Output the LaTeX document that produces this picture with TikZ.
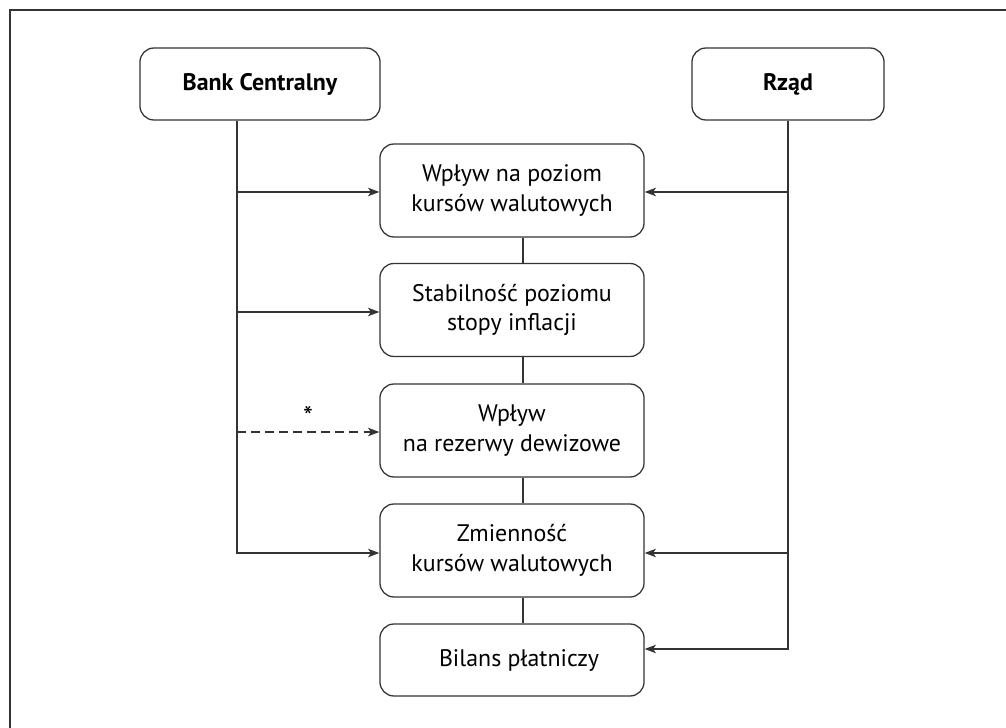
\documentclass[tikz,border=0pt]{standalone}
\usepackage{fontspec}
\setmainfont{PT Sans}
\usepackage{tikz}
\usetikzlibrary{arrows.meta}

\begin{document}
\begin{tikzpicture}[x=0.025cm, y=-0.025cm,
    line width=0.9pt, draw=black!80,
    >={Stealth[length=8pt, width=6pt, inset=2pt]},
    actor/.style={draw, rounded corners=10pt, minimum width=6cm, minimum height=1.8cm,
        font=\fontsize{17}{21}\selectfont\bfseries, align=center},
    effect/.style={draw, rounded corners=10pt, minimum width=6.6cm, minimum height=2.325cm,
        font=\fontsize{17}{21}\selectfont, align=center},
    link/.style={->}]

    \useasboundingbox (0,0) rectangle (1006,728);
    \draw (10,728) -- (10,10) -- (1006,10);

    \node[actor] (bank) at (260,84) {Bank Centralny};
    \node[actor, minimum width=4.8cm] (rzad) at (788,84) {Rząd};

    \node[effect] (poziom) at (512,190.5) {Wpływ na poziom\\kursów walutowych};
    \node[effect] (inflacja) at (512,310) {Stabilność poziomu\\stopy inflacji};
    \node[effect] (rezerwy) at (512,430.5) {Wpływ\\na rezerwy dewizowe};
    \node[effect] (zmiennosc) at (512,550.5) {Zmienność\\kursów walutowych};
    \node[effect, minimum height=1.8cm] (bilans) at (512,660) {\hspace{10pt}Bilans płatniczy};

    % pion miedzy polami
    \draw ([xshift=0.275cm]poziom.south) -- ([xshift=0.275cm]inflacja.north);
    \draw ([xshift=0.275cm]inflacja.south) -- ([xshift=0.275cm]rezerwy.north);
    \draw ([xshift=0.275cm]rezerwy.south) -- ([xshift=0.275cm]zmiennosc.north);
    \draw ([xshift=0.275cm]zmiennosc.south) -- ([xshift=0.275cm]bilans.north);

    % Bank Centralny
    \coordinate (bk) at ([xshift=-0.575cm]bank.south);
    \draw[link] (bk) |- ([yshift=-0.0625cm]zmiennosc.west);
    \draw[link] ([yshift=-0.0375cm]bk |- poziom.west) -- ([yshift=-0.0375cm]poziom.west);
    \draw[link] ([yshift=-0.05cm]bk |- inflacja.west) -- ([yshift=-0.05cm]inflacja.west);
    \draw[link, dash pattern=on 6.4pt off 3.6pt] ([yshift=-0.0375cm]bk |- rezerwy.west) --
        node[above=0pt, font=\fontsize{20}{20}\selectfont] {*} ([yshift=-0.0375cm]rezerwy.west);

    % Rzad
    \draw[link] (rzad.south) |- ([yshift=0.275cm]bilans.east);
    \draw[link] ([yshift=-0.0375cm]rzad.south |- poziom.east) -- ([yshift=-0.0375cm]poziom.east);
    \draw[link] ([yshift=-0.0625cm]rzad.south |- zmiennosc.east) -- ([yshift=-0.0625cm]zmiennosc.east);

\end{tikzpicture}
\end{document}
